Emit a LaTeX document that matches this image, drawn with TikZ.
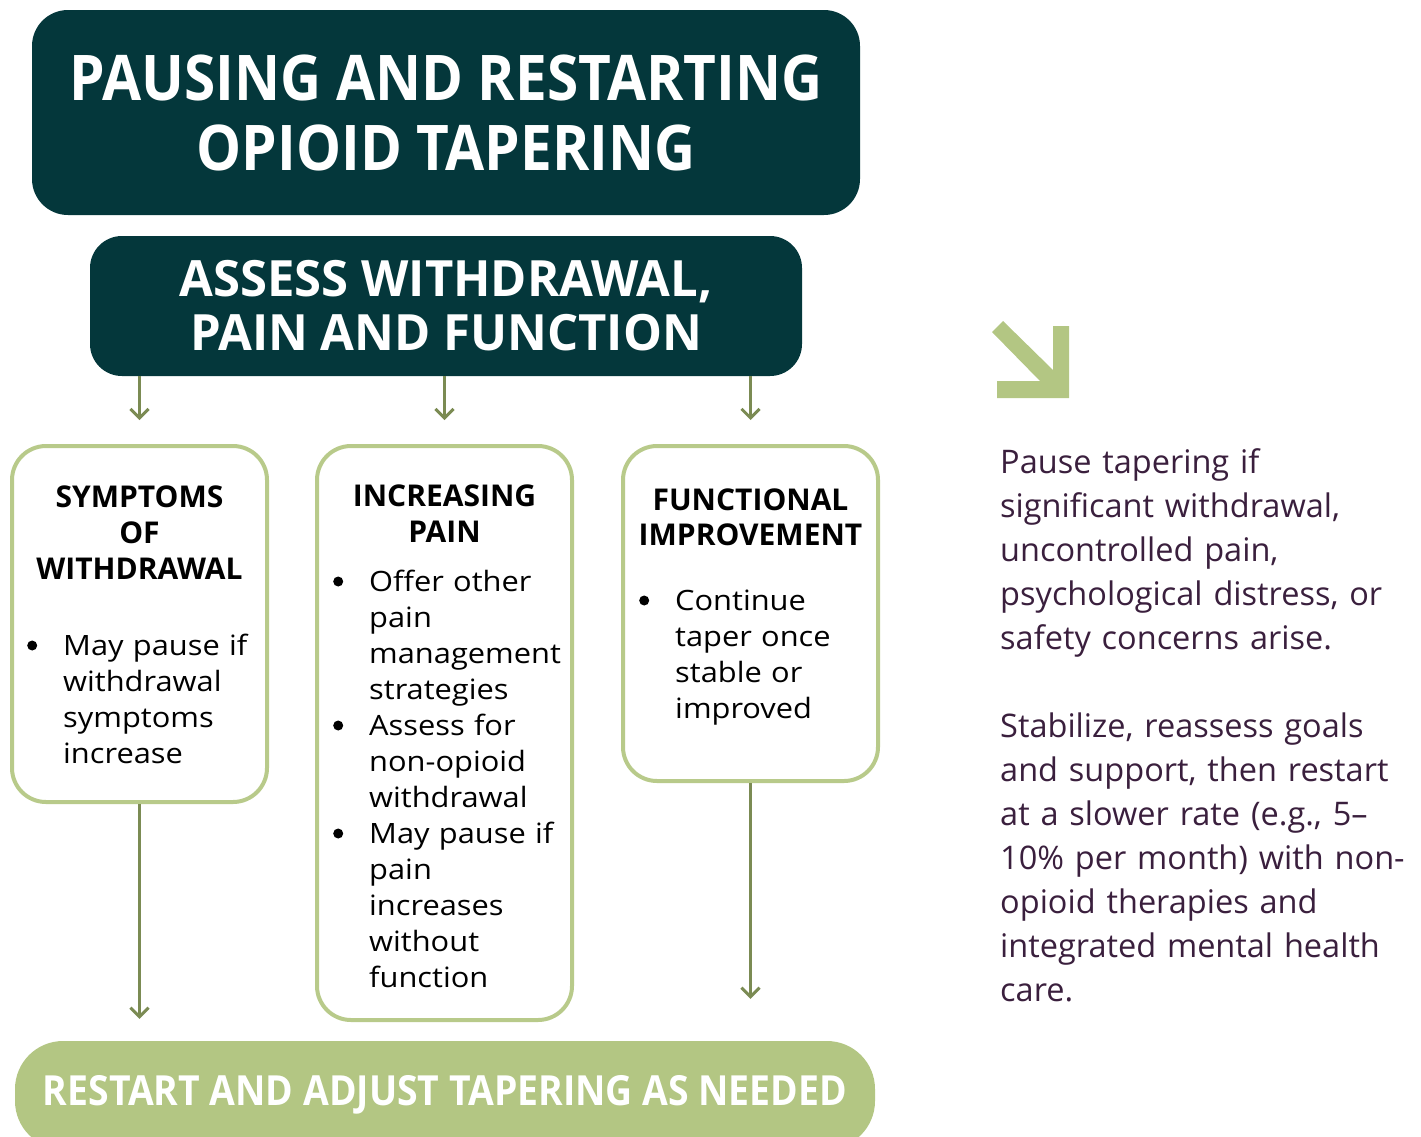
\documentclass[tikz,border=0pt]{standalone}
\usepackage{fontspec}
\setmainfont{Open Sans}
\newfontfamily\titlefont[FakeStretch=0.9]{Open Sans}
\newfontfamily\assessfont[FakeStretch=0.98]{Open Sans}
\newfontfamily\bodyfont[FakeStretch=1.1]{Open Sans}
\usetikzlibrary{calc,arrows.meta}
\definecolor{tealdark}{HTML}{04373B}
\definecolor{sagefill}{HTML}{B3C683}
\definecolor{sageline}{HTML}{B8CA8A}
\definecolor{arrowgreen}{HTML}{7B8B53}
\definecolor{plum}{HTML}{3A1F3D}
\newcommand{\bitem}{\hangindent=37pt\hangafter=1\makebox[37pt][l]{\hspace{1pt}\tikz[baseline=0pt]\fill (0pt,9.5pt) circle[radius=5pt];}}

\begin{document}
\begin{tikzpicture}[x=1pt,y=-1pt]
\tikzstyle{banner}=[fill=tealdark, text=white, rounded corners=36pt, align=center, inner sep=0pt]
\tikzstyle{card}=[draw=sageline, line width=4pt, fill=white, rounded corners=34pt, minimum width=255pt, inner sep=0pt]
\tikzstyle{cardhead}=[anchor=base, text width=250pt, align=center, inner sep=0pt, font=\bfseries\fontsize{30}{36}\selectfont]
\tikzstyle{cardtext}=[anchor=base west, text width=232pt, align=left, inner sep=0pt, font=\bodyfont\fontsize{28}{36}\selectfont]
\tikzstyle{flow}=[draw=arrowgreen, line width=3pt, -{Straight Barb[length=9pt,width=18pt]}]
\useasboundingbox (0,0) rectangle (1421,1136);

% Title and assessment banners
\node[banner, minimum width=828pt, minimum height=205pt, font=\titlefont\bfseries\fontsize{63}{70}\selectfont] (title) at (446,112.5) {PAUSING AND RESTARTING\\OPIOID TAPERING};
\node[banner, rounded corners=32pt, minimum width=712pt, minimum height=140pt, font=\assessfont\bfseries\fontsize{50}{54}\selectfont] (assess) at (446,306) {ASSESS WITHDRAWAL,\\PAIN AND FUNCTION};

% Three outcome cards
\node[card, minimum height=356pt] (withdrawal) at (139.5,624) {};
\node[cardhead] (withdrawalhead) at (139.5,507) {SYMPTOMS\\OF\\WITHDRAWAL};
\node[cardtext] (withdrawaltext) at (26,655) {\bitem May pause if\newline withdrawal\newline symptoms\newline increase\par};

\node[card, minimum height=574pt] (pain) at (444.5,733) {};
\node[cardhead] (painhead) at (444.5,506) {INCREASING\\PAIN};
\node[cardtext] (paintext) at (332,591) {\bitem Offer other\newline pain\newline management\newline strategies\par
\bitem Assess for\newline non-opioid\newline withdrawal\par
\bitem May pause if\newline pain\newline increases\newline without\newline function\par};

\node[card, minimum height=335pt] (improvement) at (750.5,613.5) {};
\node[cardhead, font=\bfseries\fontsize{30}{35}\selectfont] (improvementhead) at (750.5,510) {FUNCTIONAL\\IMPROVEMENT};
\node[cardtext] (improvementtext) at (638,610) {\bitem Continue\newline taper once\newline stable or\newline improved\par};

% Restart banner
\node[banner, fill=sagefill, rounded corners=48pt, minimum width=860pt, minimum height=108pt, font=\titlefont\bfseries\fontsize{41.5}{48}\selectfont] (restart) at (445,1095) {RESTART AND ADJUST TAPERING AS NEEDED};

% connectors
\draw[flow] (assess.south -| withdrawal) -- ([yshift=24pt]withdrawal.north);
\draw[flow] (assess.south -| pain) -- ([yshift=24pt]pain.north);
\draw[flow] (assess.south -| improvement) -- ([yshift=24pt]improvement.north);
\draw[flow] (withdrawal.south) -- ([yshift=22pt]restart.north -| withdrawal);
\draw[flow] (improvement.south) -- ([yshift=42pt]restart.north -| improvement);

% side note with arrow icon
\fill[sagefill] (992,332) -- (1003,321) -- (1053,370) -- (1053,326) -- (1069,326) -- (1069,398) -- (997,398) -- (997,381) -- (1040,381) -- cycle;
\node[anchor=base west, text width=420pt, align=left, inner sep=0pt, text=plum, font=\fontsize{32.5}{44}\selectfont] (note) at (1000,473) {Pause tapering if\\significant withdrawal,\\uncontrolled pain,\\psychological distress, or\\safety concerns arise.\\[44pt]
Stabilize, reassess goals\\and support, then restart\\at a slower rate (e.g., 5–\\10\% per month) with non-\\opioid therapies and\\integrated mental health\\care.};
\end{tikzpicture}
\end{document}
